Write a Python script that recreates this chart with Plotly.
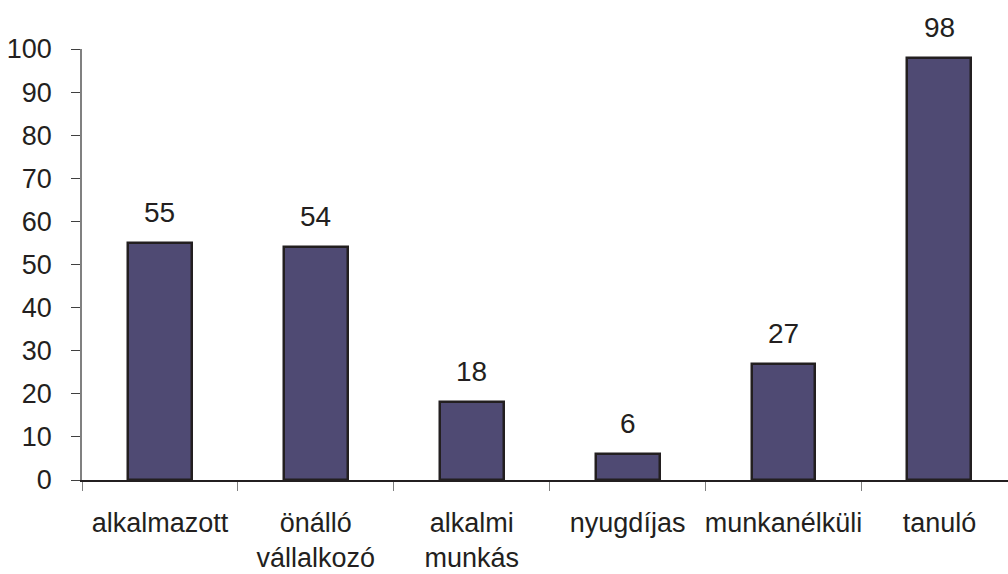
import plotly.graph_objects as go

categories = ["alkalmazott", "önálló<br>vállalkozó", "alkalmi<br>munkás",
              "nyugdíjas", "munkanélküli", "tanuló"]
values = [55, 54, 18, 6, 27, 98]
y_ticks = list(range(0, 101, 10))

font = dict(family="Liberation Sans, Arial, sans-serif", size=27, color="#231F20")
label_font = dict(family="Liberation Sans, Arial, sans-serif", size=28, color="#231F20")

fig = go.Figure()
fig.add_trace(go.Bar(
    x=categories,
    y=values,
    width=0.41,
    marker=dict(color="#4F4A73", line=dict(color="#231F20", width=2.5)),
    hoverinfo="skip",
))

for c, v in zip(categories, values):
    fig.add_annotation(x=c, y=v, text=str(v), showarrow=False,
                       yanchor="bottom", yshift=13, font=label_font)

fig.update_layout(
    width=1008, height=574,
    margin=dict(l=82, r=0, t=49, b=94, autoexpand=False),
    plot_bgcolor="white", paper_bgcolor="white",
    font=font,
    showlegend=False,
    bargap=0,
)
fig.update_xaxes(
    type="category",
    range=[-0.5, 5.44],
    automargin=False,
    tickfont=font,
    tickangle=0,
    showline=True, linecolor="#231F20", linewidth=1.5,
    ticks="outside", tickson="boundaries", ticklen=9, tickcolor="#808080",
    showgrid=False,
    ticklabelstandoff=18,
)
fig.update_yaxes(
    range=[0, 100],
    automargin=False,
    tickfont=font,
    tickvals=y_ticks,
    showline=True, linecolor="#808080", linewidth=1.5,
    ticks="outside", ticklen=9, tickcolor="#404040",
    showgrid=False, zeroline=False,
    ticklabelstandoff=14,
)

fig.write_html("out.html", config={"displayModeBar": False},
               post_script="document.body.style.margin='0';")
